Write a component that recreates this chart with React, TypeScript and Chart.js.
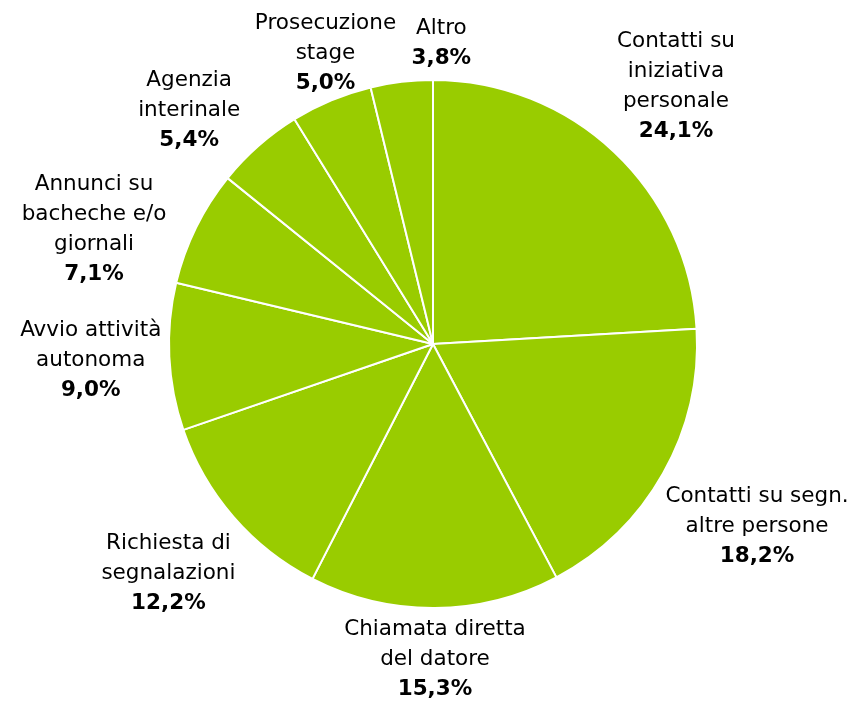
import { useEffect, useRef } from 'react';
import { Chart, registerables } from 'chart.js';

Chart.register(...registerables);

// ---- data ----
const categoryLines: string[][] = [
  ['Contatti su', 'iniziativa', 'personale'],
  ['Contatti su segn.', 'altre persone'],
  ['Chiamata diretta', 'del datore'],
  ['Richiesta di', 'segnalazioni'],
  ['Avvio attività', 'autonoma'],
  ['Annunci su', 'bacheche e/o', 'giornali'],
  ['Agenzia', 'interinale'],
  ['Prosecuzione', 'stage'],
  ['Altro'],
];
const values: number[] = [24.1, 18.2, 15.3, 12.2, 9.0, 7.1, 5.4, 5.0, 3.8];

// ---- style ----
const SLICE_COLOR = '#99CC00';
const FONT_FAMILY = '"DejaVu Sans", Verdana, sans-serif';
const FONT_SIZE = 21.5;
const LINE_H = 30;
const GAP = 6;
const BOX_MARGIN = 14;

const fmtPct = (v: number) => v.toFixed(1).replace('.', ',') + '%';
const fontOf = (bold: boolean) => `${bold ? 'bold ' : ''}${FONT_SIZE}px ${FONT_FAMILY}`;

const outerLabels = {
  id: 'outerLabels',
  afterDatasetsDraw(chart: any) {
    const ctx: CanvasRenderingContext2D = chart.ctx;
    const meta = chart.getDatasetMeta(0);
    const W = chart.width;
    ctx.save();
    const items = meta.data.map((arc: any, i: number) => {
      const p = arc.getProps(['x', 'y', 'startAngle', 'endAngle', 'outerRadius'], true);
      const lines = categoryLines[i].map((t) => ({ text: t, bold: false }));
      lines.push({ text: fmtPct(values[i]), bold: true });
      let w = 0;
      for (const l of lines) {
        ctx.font = fontOf(l.bold);
        w = Math.max(w, ctx.measureText(l.text).width);
      }
      return {
        x: p.x, y: p.y, r: p.outerRadius,
        angle: (p.startAngle + p.endAngle) / 2,
        lines, w, h: lines.length * LINE_H, cx: 0, cy: 0,
      };
    });
    const place = (it: any) => {
      const c = Math.cos(it.angle);
      const s = Math.sin(it.angle);
      const d = it.r + GAP + Math.abs(c) * it.w / 2 + Math.abs(s) * it.h / 2;
      it.cx = it.x + c * d;
      it.cy = it.y + s * d;
      it.cy = Math.max(it.cy, it.h / 2);
      it.cx = Math.min(Math.max(it.cx, it.w / 2), W - it.w / 2);
    };
    items.forEach(place);
    const overlap = (a: any, b: any) =>
      a.cx - a.w / 2 < b.cx + b.w / 2 + BOX_MARGIN &&
      b.cx - b.w / 2 < a.cx + a.w / 2 + BOX_MARGIN &&
      a.cy - a.h / 2 < b.cy + b.h / 2 + BOX_MARGIN &&
      b.cy - b.h / 2 < a.cy + a.h / 2 + BOX_MARGIN;
    const STEP = 0.003;
    for (let iter = 0; iter < 800; iter++) {
      let moved = false;
      for (let i = 0; i < items.length; i++) {
        for (let j = i + 1; j < items.length; j++) {
          const A = items[i];
          const B = items[j];
          if (!overlap(A, B)) continue;
          let delta = B.angle - A.angle;
          while (delta > Math.PI) delta -= 2 * Math.PI;
          while (delta <= -Math.PI) delta += 2 * Math.PI;
          const dir = delta >= 0 ? 1 : -1;
          B.angle += dir * STEP;
          A.angle -= dir * STEP;
          place(A);
          place(B);
          moved = true;
        }
      }
      if (!moved) break;
    }
    ctx.fillStyle = '#000000';
    ctx.textAlign = 'center';
    ctx.textBaseline = 'middle';
    for (const it of items) {
      const top = it.cy - it.h / 2;
      it.lines.forEach((l: any, k: number) => {
        ctx.font = fontOf(l.bold);
        ctx.fillText(l.text, it.cx, top + LINE_H * (k + 0.5));
      });
    }
    ctx.restore();
  },
};

export default function App() {
  const canvasRef = useRef<HTMLCanvasElement | null>(null);
  useEffect(() => {
    if (!canvasRef.current) return;
    const chart = new Chart(canvasRef.current, {
      type: 'pie',
      data: {
        labels: categoryLines.map((l) => l.join(' ')),
        datasets: [
          {
            data: values,
            backgroundColor: SLICE_COLOR,
            borderColor: '#ffffff',
            borderWidth: 2,
          },
        ],
      },
      options: {
        responsive: true,
        maintainAspectRatio: false,
        animation: false,
        layout: { padding: { top: 71, bottom: 98, left: 160, right: 160 } },
        plugins: {
          legend: { display: false },
          tooltip: { enabled: false },
        },
      },
      plugins: [outerLabels],
    });
    return () => chart.destroy();
  }, []);
  return (
    <div style={{ width: 850, height: 699, position: 'relative' }}>
      <canvas ref={canvasRef} />
    </div>
  );
}
